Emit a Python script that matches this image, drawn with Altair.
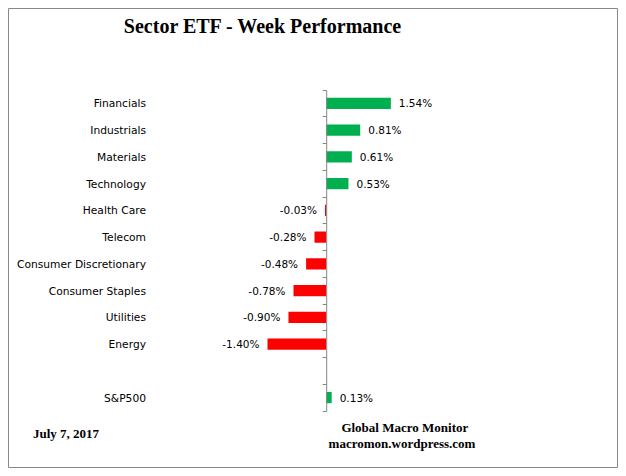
import altair as alt
import pandas as pd

# ---- data ----
sectors = ["Financials", "Industrials", "Materials", "Technology", "Health Care",
           "Telecom", "Consumer Discretionary", "Consumer Staples", "Utilities",
           "Energy", "S&P500"]
values = [1.54, 0.81, 0.61, 0.53, -0.03, -0.28, -0.48, -0.78, -0.90, -1.40, 0.13]
row_order = sectors[:10] + [" "] + ["S&P500"]

title_text = "Sector ETF - Week Performance"
date_text = "July 7, 2017"
source_lines = ["Global Macro Monitor", "macromon.wordpress.com"]

df = pd.DataFrame({"sector": sectors, "value": values})

# ---- layout / style ----
W, H = 428, 321
LABEL_FONT = "DejaVu Sans"
SERIF = "Liberation Serif"
AXIS_GRAY = "#868686"

yscale = alt.Scale(domain=row_order, paddingInner=0, paddingOuter=0)
xscale = alt.Scale(domain=[-4.2, 6.0], nice=False, zero=False)

zero_axis = alt.Axis(
    title=None, labels=False, grid=False,
    domain=True, domainColor=AXIS_GRAY, domainWidth=1,
    ticks=True, tickColor=AXIS_GRAY, tickSize=4, tickWidth=1,
    bandPosition=1, tickExtra=True, offset=-176.2, zindex=1)

X = alt.X("value:Q", scale=xscale, axis=None)
Y = alt.Y("sector:N", scale=yscale, axis=zero_axis)

bars = alt.Chart(df).mark_bar(height={"band": 0.42}).encode(
    x=X, y=Y,
    color=alt.condition("datum.value >= 0", alt.value("#00B050"), alt.value("#FF0000")),
)

label_calc = {"label": "replace(format(datum.value, '.2f'), '\u2212', '-') + '%'"}

pos_labels = alt.Chart(df).transform_calculate(**label_calc).transform_filter(
    "datum.value >= 0").mark_text(
    align="left", baseline="middle", dx=8, dy=1, font=LABEL_FONT, fontSize=10.5,
    color="black").encode(x=X, y=Y, text="label:N")

neg_labels = alt.Chart(df).transform_calculate(**label_calc).transform_filter(
    "datum.value < 0").mark_text(
    align="right", baseline="middle", dx=-8, dy=1, font=LABEL_FONT, fontSize=10.5,
    color="black").encode(x=X, y=Y, text="label:N")

cat_labels = alt.Chart(df).mark_text(
    align="right", baseline="middle", dy=1, font=LABEL_FONT, fontSize=10.7,
    color="black").encode(y=Y, x=alt.value(-4), text="sector:N")


def free_text(txt, x, y, size, align="center"):
    return alt.Chart(pd.DataFrame({"t": [txt]})).mark_text(
        align=align, baseline="alphabetic", font=SERIF, fontWeight="bold",
        fontSize=size, color="black").encode(
        text="t:N", x=alt.value(x), y=alt.value(y))


title = free_text(title_text, 112.5, -57.3, 20)
date = free_text(date_text, -117, 348, 13, align="left")
src1 = free_text(source_lines[0], 254.8, 341.7, 13)
src2 = free_text(source_lines[1], 252, 358.3, 13)

border = alt.Chart(pd.DataFrame({"a": [0]})).mark_rect(
    filled=False, stroke="#888888", strokeWidth=1).encode(
    x=alt.value(-141.5), x2=alt.value(467.5), y=alt.value(-81.5), y2=alt.value(377.5))

chart = alt.layer(
    border, bars, pos_labels, neg_labels, cat_labels, title, date, src1, src2
).properties(
    width=W, height=H,
    padding={"left": 142, "top": 82, "right": 40, "bottom": 57},
    autosize="none",
).configure_view(stroke=None)

chart.save("out.html", embed_options={"renderer": "svg", "actions": False})
